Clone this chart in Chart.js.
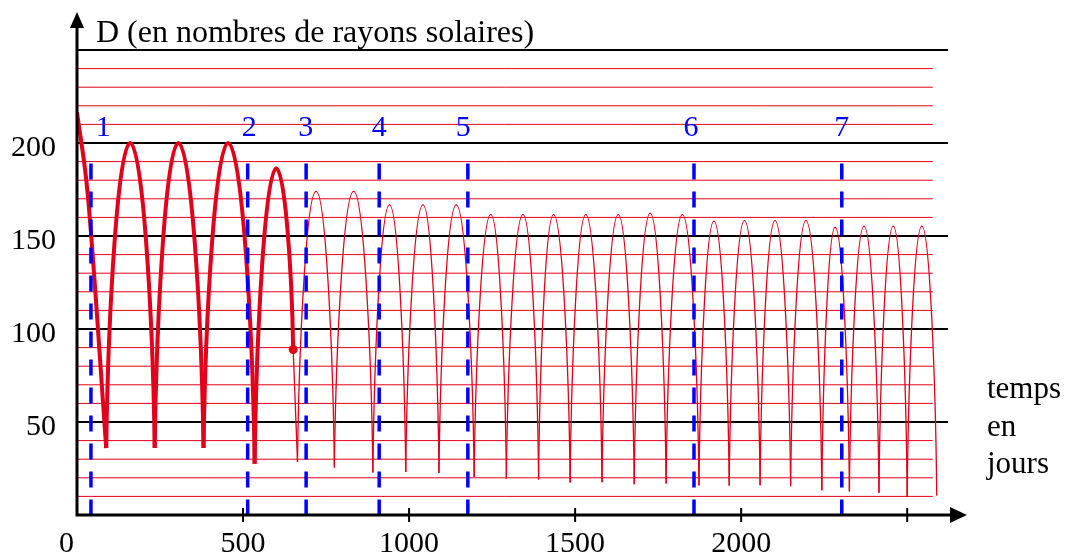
<!DOCTYPE html>
<html>
<head>
<meta charset="utf-8">
<script src="https://cdn.jsdelivr.net/npm/chart.js@4.4.0/dist/chart.umd.min.js"></script>
<style>
  html, body { margin: 0; padding: 0; background: #fff; }
  #zone { width: 1065px; height: 555px; position: relative; }
</style>
</head>
<body>
<div id="zone"><canvas id="graf"></canvas></div>
<script>
// D en nombres de rayons solaires, temps en jours
var debutJours = [0, 32];
var debutD = [216.5, 173];
var creuxJours = [88, 234, 381, 535, 664, 775, 891, 990, 1090, 1196, 1293, 1390, 1485, 1581, 1678, 1774, 1873, 1964, 2057, 2149, 2243, 2326, 2415, 2500];
var creuxD = [36, 36, 36, 27.6, 28.5, 25.5, 22.8, 23.1, 22.6, 20.5, 19.6, 19.1, 17.5, 17.6, 16.5, 16.9, 15.8, 15.8, 16, 15.5, 13.3, 12.6, 11.9, 9.7];
var sommetsJours = [160, 305, 455, 600, 720, 833, 941, 1042, 1142, 1246, 1343, 1435, 1532, 1630, 1726, 1823, 1918, 2010, 2102, 2195, 2283, 2370, 2458, 2544];
var sommetsD = [200, 200, 200, 186.4, 174, 174, 166.7, 166.7, 166.7, 161.5, 161.5, 161.5, 161.5, 161.5, 162.3, 161.5, 158, 158.3, 158.3, 158.3, 154.7, 155.3, 155.3, 155.3];
var finJours = 2589, finD = 10.3;
var pointFinalJours = 651, pointFinalD = 89;

var repereJours = [42, 514, 690, 910, 1177, 1858, 2303];
var repereNoms = ['1', '2', '3', '4', '5', '6', '7'];
var repereTexteJours = [79, 519, 689, 910, 1163, 1849, 2303];
var repereHaut = 189, repereTexteD = 203.5;

var ticksX = [500, 1000, 1500, 2000, 2500];
var labelsX = ['500', '1000', '1500', '2000', ''];
var ticksY = [50, 100, 150, 200];
var pasGrille = 10, maxY = 250, maxX = 2650;
var finRouge = 2577, finNoir = 2623;

var rouge = '#e2001a';
var bleu = '#0000ff';
var police = '"Liberation Serif", "Times New Roman", serif';

var datasets = [];
function trace(points, epais, arc) {
    datasets.push({
        data: points,
        borderColor: rouge,
        borderWidth: epais ? 4 : 1.3,
        pointRadius: 0,
        cubicInterpolationMode: 'monotone',
        fill: false,
        arc: arc,
        order: 3
    });
}

var creux = creuxJours.map(function (j, i) { return { x: j, y: creuxD[i] }; });
var sommets = sommetsJours.map(function (j, i) { return { x: j, y: sommetsD[i] }; });
var pointFinal = { x: pointFinalJours, y: pointFinalD };

trace([{ x: debutJours[0], y: debutD[0] }, { x: debutJours[1], y: debutD[1] }, creux[0]], true, false);
for (var i = 0; i < sommets.length; i++) {
    var suivant = i + 1 < creux.length ? creux[i + 1] : { x: finJours, y: finD };
    if (suivant.x <= pointFinal.x) {
        trace([creux[i], sommets[i], suivant], true, true);
    } else if (creux[i].x < pointFinal.x) {
        trace([creux[i], sommets[i], pointFinal], true, true);
        trace([pointFinal, suivant], false, false);
    } else {
        trace([creux[i], sommets[i], suivant], false, true);
    }
}

datasets.push({
    data: [pointFinal],
    showLine: false,
    pointRadius: 4.5,
    pointBackgroundColor: rouge,
    pointBorderWidth: 0,
    order: 1
});

repereJours.forEach(function (j) {
    datasets.push({
        data: [{ x: j, y: repereHaut }, { x: j, y: 0 }],
        borderColor: bleu,
        borderWidth: 3.5,
        borderDash: [16, 12],
        pointRadius: 0,
        order: 0
    });
});

// arches : pointe presque verticale en bas, sommet arrondi
var formeArc = {
    id: 'formeArc',
    afterDatasetUpdate: function (chart, args) {
        if (!chart.data.datasets[args.index].arc) return;
        var pts = args.meta.data;
        for (var k = 0; k < pts.length - 1; k++) {
            var a = pts[k], b = pts[k + 1];
            var dx = b.x - a.x, dy = b.y - a.y;
            if (dy < 0) {
                a.cp2x = a.x + 0.08 * dx; a.cp2y = a.y + 0.45 * dy;
                b.cp1x = b.x - 0.5 * dx; b.cp1y = b.y;
            } else {
                a.cp2x = a.x + 0.5 * dx; a.cp2y = a.y;
                b.cp1x = b.x - 0.08 * dx; b.cp1y = b.y - 0.45 * dy;
            }
        }
        args.meta.dataset._pointsUpdated = true;
    }
};

var dessin = {
    id: 'dessin',
    beforeDatasetsDraw: function (chart) {
        var c = chart.ctx, sx = chart.scales.x, sy = chart.scales.y;
        c.save();
        for (var v = pasGrille; v <= maxY; v += pasGrille) {
            var noir = v % 50 === 0;
            var y = sy.getPixelForValue(v);
            c.beginPath();
            c.strokeStyle = noir ? '#000' : rouge;
            c.lineWidth = noir ? 2 : 1;
            c.moveTo(sx.getPixelForValue(0), y);
            c.lineTo(sx.getPixelForValue(noir ? finNoir : finRouge), y);
            c.stroke();
        }
        c.restore();
    },
    afterDatasetsDraw: function (chart) {
        var c = chart.ctx, sx = chart.scales.x, sy = chart.scales.y;
        var x0 = sx.getPixelForValue(0), y0 = sy.getPixelForValue(0);
        c.save();
        c.strokeStyle = '#000';
        c.fillStyle = '#000';
        c.lineWidth = 3;
        // axes + fleches
        c.beginPath();
        c.moveTo(x0, y0);
        c.lineTo(x0, 27);
        c.moveTo(x0 - 1.5, y0);
        c.lineTo(952, y0);
        c.stroke();
        c.beginPath();
        c.moveTo(x0, 12);
        c.lineTo(x0 - 7, 28);
        c.lineTo(x0 + 7, 28);
        c.closePath();
        c.fill();
        c.beginPath();
        c.moveTo(967, y0);
        c.lineTo(950, y0 - 8);
        c.lineTo(950, y0 + 8);
        c.closePath();
        c.fill();

        c.lineWidth = 2;
        c.font = '30px ' + police;
        c.textAlign = 'center';
        ticksX.forEach(function (t, k) {
            var x = sx.getPixelForValue(t);
            c.beginPath();
            c.moveTo(x, y0 - 7);
            c.lineTo(x, y0 + 7);
            c.stroke();
            c.fillText(labelsX[k], x, y0 + 37);
        });
        c.textAlign = 'right';
        c.fillText('0', x0 - 3, y0 + 37);
        ticksY.forEach(function (t) {
            c.fillText(String(t), x0 - 21, sy.getPixelForValue(t) + 13);
        });

        c.font = '32px ' + police;
        c.textAlign = 'left';
        c.fillText('D (en nombres de rayons solaires)', 96, 42);
        c.font = '31px ' + police;
        c.fillText('temps', 987, 398);
        c.fillText('en', 987, 436);
        c.fillText('jours', 987, 473);

        c.fillStyle = bleu;
        c.font = '30px ' + police;
        c.textAlign = 'center';
        repereNoms.forEach(function (n, k) {
            c.fillText(n, sx.getPixelForValue(repereTexteJours[k]), sy.getPixelForValue(repereTexteD));
        });
        c.restore();
    }
};

var ctx = document.getElementById('graf').getContext('2d');
new Chart(ctx, {
    type: 'line',
    data: { datasets: datasets },
    options: {
        responsive: true,
        maintainAspectRatio: false,
        animation: false,
        events: [],
        layout: { padding: { left: 77, right: 108, top: 50, bottom: 40 } },
        plugins: { legend: { display: false }, tooltip: { enabled: false } },
        scales: {
            x: { type: 'linear', min: 0, max: maxX, display: false },
            y: { type: 'linear', min: 0, max: maxY, display: false }
        }
    },
    plugins: [formeArc, dessin]
});
</script>
</body>
</html>
